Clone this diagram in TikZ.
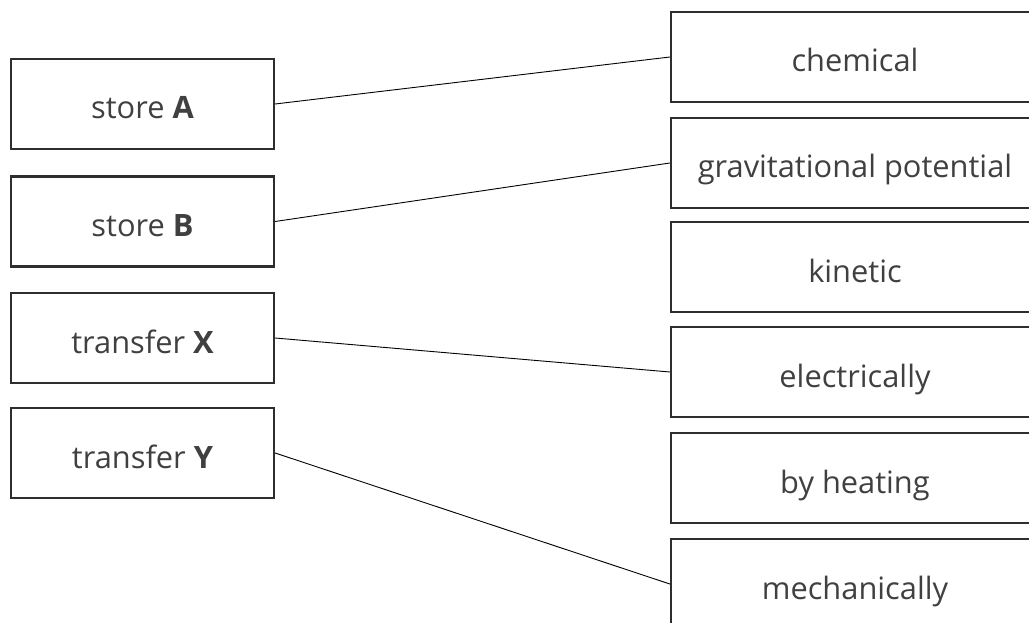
\documentclass[tikz,border=0pt]{standalone}
\usepackage{fontspec}
\setmainfont{Open Sans}
\definecolor{textgrey}{HTML}{404040}
\definecolor{framegrey}{HTML}{2E2E2E}
\begin{document}
\begin{tikzpicture}[
    x=1pt, y=-1pt,
    every node/.style={align=center, font=\fontsize{30.8}{36}\selectfont, text=textgrey,
        text height=30pt, text depth=0pt},
    leftbox/.style={draw=framegrey, line width=2.2pt, minimum width=263pt, minimum height=90pt, inner sep=0pt},
    rightbox/.style={draw=framegrey, line width=2.2pt, minimum width=368pt, minimum height=90pt, inner sep=0pt},
    link/.style={draw=black, line width=0.9pt}
]
  \useasboundingbox (0,0) rectangle (1029,623);

  % left column
  \node[leftbox] (storeA) at (142.5,104) {store \textbf{A}};
  \node[leftbox] (storeB) at (142.5,221.5) {store \textbf{B}};
  \node[leftbox] (transX) at (142.5,338) {transfer \textbf{X}};
  \node[leftbox] (transY) at (142.5,453) {transfer \textbf{Y}};

  % right column
  \node[rightbox] (chem)  at (855,57)  {chemical};
  \node[rightbox] (grav)  at (855,163) {gravitational potential};
  \node[rightbox] (kin)   at (855,267) {kinetic};
  \node[rightbox] (elec)  at (855,372) {electrically};
  \node[rightbox] (heat)  at (855,478) {by heating};
  \node[rightbox] (mech)  at (855,584) {mechanically};

  % matching lines
  \draw[link] (storeA.east) -- (chem.west);
  \draw[link] (storeB.east) -- (grav.west);
  \draw[link] (transX.east) -- (elec.west);
  \draw[link] (transY.east) -- (mech.west);
\end{tikzpicture}
\end{document}
